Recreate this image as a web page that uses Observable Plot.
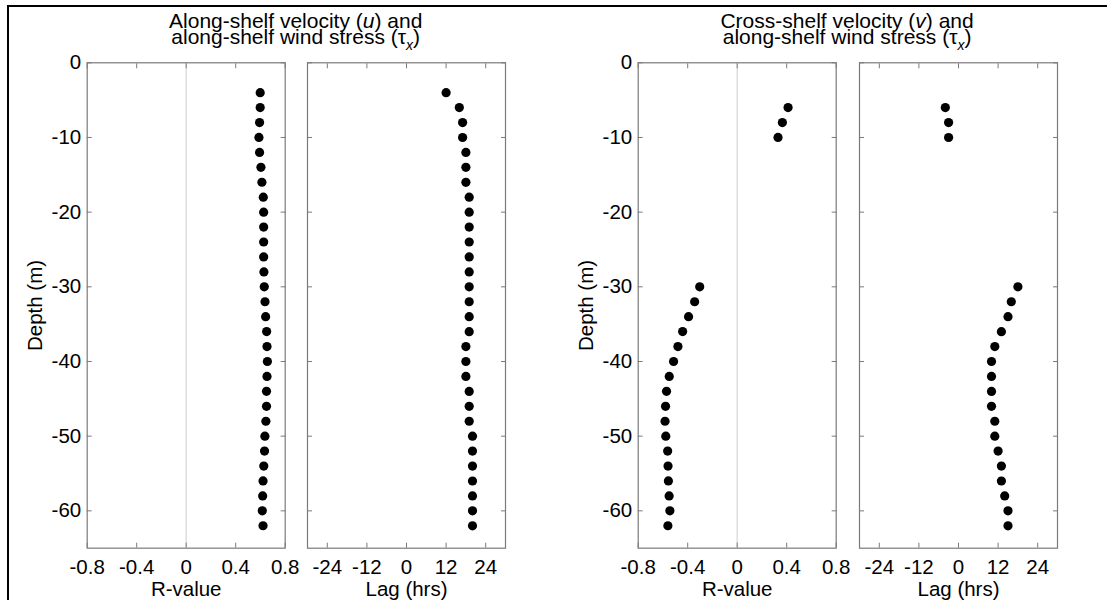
<!DOCTYPE html>
<html><head><meta charset="utf-8">
<script src="https://cdn.jsdelivr.net/npm/d3@7"></script>
<script src="https://cdn.jsdelivr.net/npm/@observablehq/plot@0.6"></script>
<style>
body{margin:0;background:#fff;}
#wrap{position:relative;width:1107px;height:600px;overflow:hidden;font-family:"Liberation Sans",Arial,sans-serif;color:#000;background:#fff;}
.panel{position:absolute;top:0;}
.title{position:absolute;width:460px;font-size:21px;line-height:16px;text-align:center;white-space:nowrap;}
.title sub{font-size:14px;line-height:0;vertical-align:-6px;}
.border{position:absolute;left:7px;top:5px;width:1300px;height:800px;border-top:2px solid #000;border-left:2px solid #000;pointer-events:none;}
</style></head>
<body><div id="wrap"><div class="border"></div></div>
<script>
// ---- data ----
const depthsU = [-4,-6,-8,-10,-12,-14,-16,-18,-20,-22,-24,-26,-28,-30,-32,-34,-36,-38,-40,-42,-44,-46,-48,-50,-52,-54,-56,-58,-60,-62];
const rU = [0.598,0.598,0.593,0.588,0.593,0.604,0.612,0.623,0.626,0.626,0.626,0.626,0.628,0.631,0.637,0.642,0.650,0.653,0.656,0.653,0.649,0.649,0.644,0.636,0.633,0.627,0.621,0.618,0.615,0.621];
const lagU = [12,16,17,17,18,18,18,19,19,19,19,19,19,19,19,19,19,18,18,18,19,19,19,20,20,20,20,20,20,20];
const depthsV = [-6,-8,-10,-30,-32,-34,-36,-38,-40,-42,-44,-46,-48,-50,-52,-54,-56,-58,-60,-62];
const rV = [0.411,0.365,0.330,-0.303,-0.344,-0.393,-0.441,-0.479,-0.514,-0.549,-0.571,-0.579,-0.583,-0.577,-0.562,-0.559,-0.556,-0.550,-0.544,-0.560];
const lagV = [-4,-3,-3,18,16,15,13,11,10,10,10,10,11,11,12,13,13,14,15,15];
const rTicks = [-0.8,-0.4,0,0.4,0.8];
const lagTicks = [-24,-12,0,12,24];
const depthTicks = [0,-10,-20,-30,-40,-50,-60];
const rDomain = [-0.8,0.8];
const lagDomain = [-30,30];
const depthDomain = [-65,0];
const zeroLine = [0];
const titleU = ["Along-shelf velocity (", "u", ") and", "along-shelf wind stress (τ", "x", ")"];
const titleV = ["Cross-shelf velocity (", "v", ") and", "along-shelf wind stress (τ", "x", ")"];
const xLabels = ["R-value", "Lag (hrs)"];
const yLabel = "Depth (m)";

const wrap = document.getElementById("wrap");
const FRAME = "#7a7a7a";
const fmt = d => String(d);

function panel({left, mL, mR, xDomain, xTicks, xLabel, ys, xs, showY, zero}) {
  const frameW = 198;
  const width = mL + frameW + mR;
  const data = ys.map((d, i) => ({depth: d, val: xs[i]}));
  const marks = [];
  if (zero) marks.push(Plot.ruleX(zeroLine, {stroke: "#d6d6d6", strokeWidth: 1.2}));
  marks.push(Plot.frame({stroke: FRAME, strokeWidth: 1.2}));
  marks.push(Plot.axisX({anchor: "bottom", ticks: xTicks, tickSize: -5, tickPadding: 16, tickFormat: fmt,
    label: xLabel, labelAnchor: "center", labelOffset: 48, labelArrow: "none",
    stroke: FRAME, fill: "#000", fontSize: 20.5}));
  marks.push(Plot.axisX({anchor: "top", ticks: xTicks, tickSize: -5, stroke: FRAME, fill: "none", label: null}));
  if (showY) {
    marks.push(Plot.axisY({anchor: "left", ticks: depthTicks, tickSize: -5, tickPadding: 11, tickFormat: fmt,
      label: yLabel, labelAnchor: "center", labelOffset: 60, labelArrow: "none",
      stroke: FRAME, fill: "#000", fontSize: 20.5}));
  } else {
    marks.push(Plot.axisY({anchor: "left", ticks: depthTicks, tickSize: -5, stroke: FRAME, fill: "none", label: null}));
  }
  marks.push(Plot.axisY({anchor: "right", ticks: depthTicks, tickSize: -5, stroke: FRAME, fill: "none", label: null}));
  marks.push(Plot.dot(data, {x: "val", y: "depth", r: 4.6, fill: "#000", stroke: "none"}));
  const svg = Plot.plot({
    width, height: 600,
    marginLeft: mL, marginRight: mR, marginTop: 62.3, marginBottom: 600 - 547.7,
    x: {domain: xDomain},
    y: {domain: depthDomain},
    style: {fontFamily: '"Liberation Sans", Arial, sans-serif', fontSize: "20px", color: "#000", background: "transparent", overflow: "visible"},
    marks
  });
  svg.classList.add("panel");
  svg.style.left = left + "px";
  svg.style.position = "absolute";
  svg.style.top = "0px";
  wrap.appendChild(svg);
}

panel({left: 0, mL: 86.7, mR: 10, xDomain: rDomain, xTicks: rTicks, xLabel: xLabels[0], ys: depthsU, xs: rU, showY: true, zero: true});
panel({left: 296.7, mL: 10, mR: 10, xDomain: lagDomain, xTicks: lagTicks, xLabel: xLabels[1], ys: depthsU, xs: lagU, showY: false, zero: false});
panel({left: 540, mL: 97.7, mR: 10, xDomain: rDomain, xTicks: rTicks, xLabel: xLabels[0], ys: depthsV, xs: rV, showY: true, zero: true});
panel({left: 848.5, mL: 10, mR: 10, xDomain: lagDomain, xTicks: lagTicks, xLabel: xLabels[1], ys: depthsV, xs: lagV, showY: false, zero: false});

function addTitle(parts, cx) {
  const d = document.createElement("div");
  d.className = "title";
  d.style.left = (cx - 230) + "px";
  d.style.top = "12.5px";
  d.innerHTML = `${parts[0]}<i>${parts[1]}</i>${parts[2]}<br>${parts[3]}<sub><i>${parts[4]}</i></sub>${parts[5]}`;
  wrap.appendChild(d);
}
addTitle(titleU, (86.7 + 504.7) / 2);
addTitle(titleV, (637.7 + 1056.5) / 2);
</script>
</body></html>
